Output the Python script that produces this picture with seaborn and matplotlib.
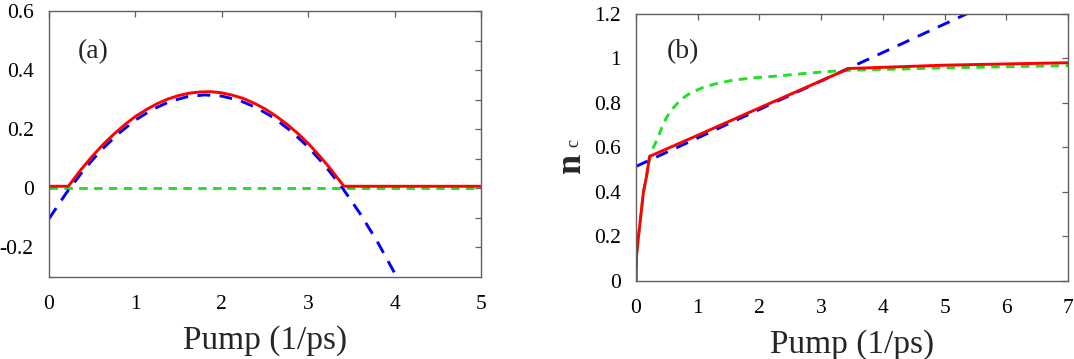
import numpy as np
import pandas as pd
import matplotlib
matplotlib.use("Agg")
import matplotlib.pyplot as plt
import seaborn as sns

# ---------------- data: panel (a) ----------------
a_red_x = [0.0, 0.224, 0.375, 0.5, 0.625, 0.75, 0.875, 1.0, 1.125, 1.25, 1.375, 1.5, 1.625,
           1.75, 1.875, 2.0, 2.125, 2.25, 2.375, 2.5, 2.625, 2.75, 2.875, 3.0, 3.125, 3.25,
           3.414, 5.0]
a_red_y = [0.007, 0.007, 0.065, 0.108, 0.148, 0.183, 0.215, 0.243, 0.266, 0.286, 0.302, 0.314,
           0.322, 0.326, 0.327, 0.323, 0.315, 0.304, 0.288, 0.269, 0.245, 0.218, 0.187, 0.152,
           0.112, 0.069, 0.007, 0.007]

a_blue_x = [0.0, 0.2, 0.4, 0.6, 0.8, 1.0, 1.2, 1.4, 1.6, 1.8, 2.0, 2.2, 2.4, 2.6, 2.8, 3.0,
            3.2, 3.4, 3.6, 3.8, 4.0, 4.05]
a_blue_y = [-0.103, -0.016, 0.061, 0.128, 0.184, 0.231, 0.267, 0.294, 0.310, 0.316, 0.312,
            0.298, 0.273, 0.239, 0.194, 0.140, 0.075, 0.000, -0.085, -0.180, -0.286, -0.314]

a_green_x = [0.0, 5.0]
a_green_y = [0.0, 0.0]

# ---------------- data: panel (b) ----------------
b_red_x = [0.0, 0.01, 0.04, 0.08, 0.12, 0.17, 0.22, 1.0, 2.0, 3.0, 3.45, 5.0, 7.0]
b_red_y = [0.0, 0.12, 0.2, 0.3, 0.4, 0.47, 0.56, 0.655, 0.778, 0.90, 0.955, 0.97, 0.981]

b_blue_x = [0.0, 1.0, 2.0, 3.0, 4.0, 5.0, 5.4]
b_blue_y = [0.515, 0.643, 0.771, 0.899, 1.027, 1.155, 1.206]

b_green_x = [0.0, 0.01, 0.04, 0.08, 0.12, 0.17, 0.22, 0.28, 0.34, 0.42, 0.5, 0.6, 0.7, 0.8,
             0.9, 1.09, 1.3, 1.58, 1.9, 2.28, 2.7, 3.09, 3.46, 4.2, 5.0, 6.0, 7.0]
b_green_y = [0.0, 0.12, 0.2, 0.3, 0.4, 0.47, 0.55, 0.60, 0.634, 0.69, 0.738, 0.777, 0.807,
             0.830, 0.848, 0.870, 0.887, 0.903, 0.913, 0.921, 0.932, 0.941, 0.947, 0.952,
             0.958, 0.963, 0.968]

xlabel = "Pump (1/ps)"
ylabel_main = "n"
ylabel_sub = "c"

sns.set_theme(style="white")
plt.rcParams['font.family'] = ['Liberation Serif', 'DejaVu Serif']

RED = "#ff0000"
BLUE = "#0000ff"
GREEN = "#22e022"
FRAME = "#606060"
LW = 2.1
BLUE_DASH = (0, (4.4, 3.2))
GREEN_DASH = (0, (2.9, 2.2))

fig = plt.figure(figsize=(10.74, 3.59), dpi=100)
axa = fig.add_axes([0.0456, 0.2284, 0.4022, 0.741])
axb = fig.add_axes([0.5922, 0.2173, 0.4022, 0.7437])

def style_axes(ax):
    for s in ax.spines.values():
        s.set_color(FRAME)
        s.set_linewidth(1.0)
    ax.tick_params(which="both", direction="in", top=True, right=True,
                   color=FRAME, length=4.5, width=0.9, labelsize=15.5,
                   labelcolor="black")
    ax.tick_params(axis="y", which="both", pad=11)
    ax.tick_params(axis="x", which="both", pad=13)

# panel (a)
sns.lineplot(x=a_green_x, y=a_green_y, ax=axa, color=GREEN, linewidth=LW,
             linestyle=GREEN_DASH)
sns.lineplot(x=a_blue_x, y=a_blue_y, ax=axa, color=BLUE, linewidth=LW,
             linestyle=BLUE_DASH)
sns.lineplot(x=a_red_x, y=a_red_y, ax=axa, color=RED, linewidth=LW)
axa.set_xlim(0, 5)
axa.set_ylim(-0.3, 0.6)
axa.set_xticks([0, 1, 2, 3, 4, 5])
axa.set_xticklabels(["0", "1", "2", "3", "4", "5"])
axa.set_yticks([-0.2, 0, 0.2, 0.4, 0.6])
axa.set_yticklabels(["-0.2", "0", "0.2", "0.4", "0.6"])
axa.set_yticks([-0.1, 0.1, 0.3, 0.5], minor=True)
style_axes(axa)
axa.set_xlabel(xlabel, fontsize=24, labelpad=8)
axa.text(0.067, 0.846, "(a)", transform=axa.transAxes, fontsize=20,
         va="center", ha="left")

# panel (b)
sns.lineplot(x=b_green_x, y=b_green_y, ax=axb, color=GREEN, linewidth=LW,
             linestyle=GREEN_DASH)
sns.lineplot(x=b_blue_x, y=b_blue_y, ax=axb, color=BLUE, linewidth=LW,
             linestyle=BLUE_DASH)
sns.lineplot(x=b_red_x, y=b_red_y, ax=axb, color=RED, linewidth=LW)
axb.set_xlim(0, 7)
axb.set_ylim(0, 1.2)
axb.set_xticks(range(0, 8))
axb.set_xticklabels([str(i) for i in range(0, 8)])
axb.set_yticks([0, 0.2, 0.4, 0.6, 0.8, 1.0, 1.2])
axb.set_yticklabels(["0", "0.2", "0.4", "0.6", "0.8", "1", "1.2"])
style_axes(axb)
axb.set_xlabel(xlabel, fontsize=24, labelpad=8)
axb.text(0.072, 0.858, "(b)", transform=axb.transAxes, fontsize=20,
         va="center", ha="left")

# y label of panel (b): large "n" with small "c"
fig.text(579.7 / 1074, 1 - 162.5 / 359, ylabel_main, fontsize=26, rotation=90,
         rotation_mode="anchor", ha="center", va="baseline", fontweight="bold")
fig.text(578.0 / 1074, 1 - 143.3 / 359, ylabel_sub, fontsize=13, rotation=90,
         rotation_mode="anchor", ha="center", va="baseline")

fig.savefig("out.png", dpi=100)
